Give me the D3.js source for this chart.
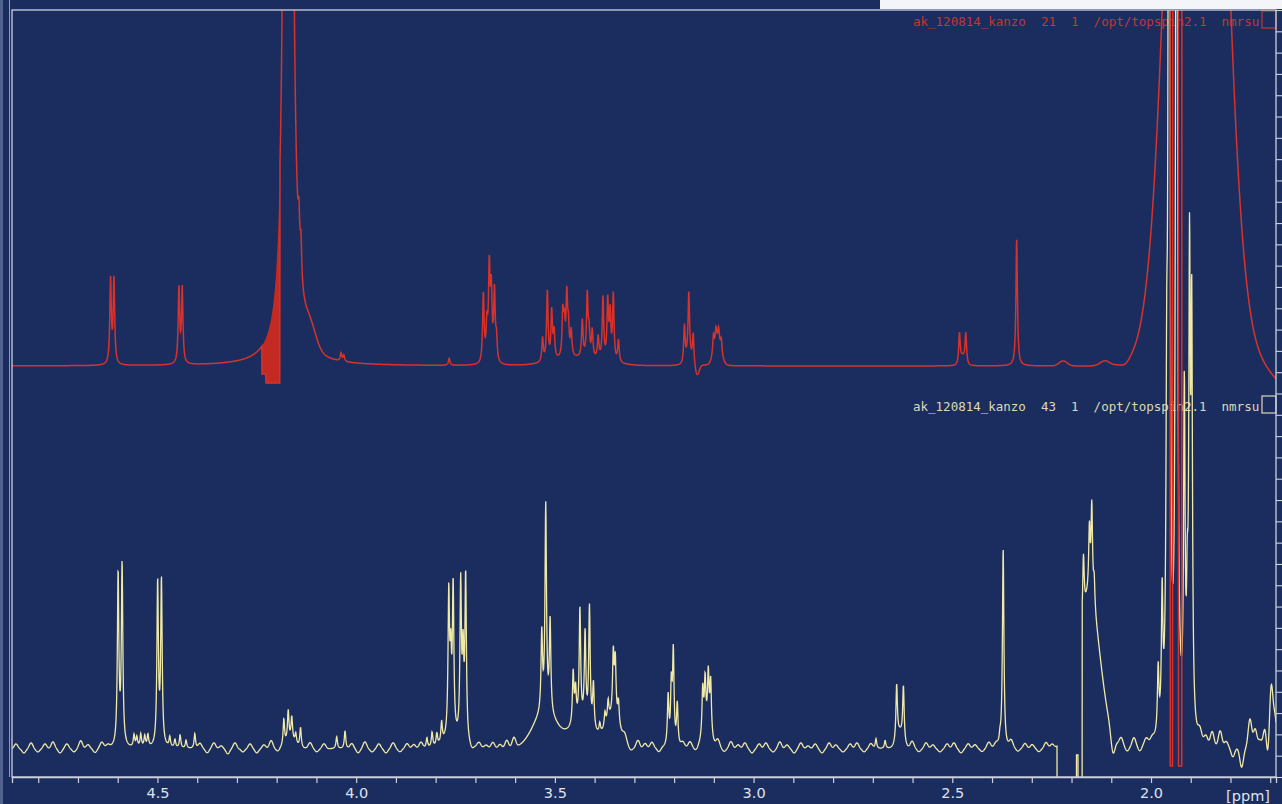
<!DOCTYPE html>
<html>
<head>
<meta charset="utf-8">
<script src="https://cdn.jsdelivr.net/npm/d3@7"></script>
<style>
  html, body { margin: 0; padding: 0; background: #1b2d5f; overflow: hidden; }
  svg { display: block; }
</style>
</head>
<body>
<svg id="chart" width="1282" height="804"></svg>
<script>
// ---------------------------------------------------------------
// 1H spectra, two acquisitions of the same sample (chemical shift in ppm).
// Sharp lines: [ppm, intensity, half-width in ppm (optional)]
// Broad features: [ppm, intensity, sigma in ppm]
// Bands: [ppm from, ppm to, level] where the trace is distorted / off-scale
// ---------------------------------------------------------------
const ppmRange = [4.866, 1.6855];
const tickValues = [4.8, 4.7, 4.6, 4.5, 4.4, 4.3, 4.2, 4.1, 4.0, 3.9, 3.8, 3.7, 3.6, 3.5,
  3.4, 3.3, 3.2, 3.1, 3.0, 2.9, 2.8, 2.7, 2.6, 2.5, 2.4, 2.3, 2.2, 2.1, 2.0, 1.9, 1.8, 1.7];
const tickLabels = [4.5, 4.0, 3.5, 3.0, 2.5, 2.0];
const unitLabel = "[ppm]";

const redTitle = "ak_120814_kanzo  21  1  /opt/topspin2.1  nmrsu";
const yellowTitle = "ak_120814_kanzo  43  1  /opt/topspin2.1  nmrsu";

// experiment 21
const redLines = [
  [4.618, 85], [4.6095, 85],
  [4.446, 75], [4.4377, 75],
  [4.171, 14000, 0.0025],
  [4.144, 40], [4.139, 38],
  [4.038, 8], [4.031, 6], [3.766, 7],
  [3.680, 68], [3.671, 30], [3.665, 84], [3.660, 62], [3.652, 68], [3.647, 22],
  [3.531, 24], [3.519, 70], [3.508, 48], [3.502, 27],
  [3.480, 44], [3.476, 32], [3.470, 60], [3.466, 28], [3.459, 25],
  [3.431, 37], [3.4185, 62], [3.414, 24], [3.406, 27], [3.391, 22],
  [3.379, 62], [3.367, 58], [3.361, 46], [3.353, 66], [3.340, 22],
  [3.174, 38], [3.163, 64], [3.152, 30],
  [3.101, 18], [3.0946, 15], [3.088, 15], [3.0813, 14],
  [2.482, 30], [2.466, 30],
  [2.338, 127]
];
const redHumps = [
  [4.116, 20, 0.015],
  [3.665, 10, 0.008],
  [3.44, 7, 0.06],
  [3.163, 8, 0.006],
  [3.142, -11, 0.005],
  [3.091, 22, 0.009],
  [2.474, 8, 0.006],
  [2.221, 5, 0.010], [2.116, 5, 0.012], [2.065, -3, 0.010],
  [1.8855, 1292, 0.0539],
  [1.650, -22, 0.038]
];
const redBands = [
  [4.237, 4.227, -8], [4.227, 4.1917, -17],
  [1.9521, 1.9453, -400], [1.9312, 1.9226, -400]
];
const redFilledRange = [4.237, 4.1917];

// experiment 43
const yellowLines = [
  [4.599, 172], [4.589, 181],
  [4.559, 12], [4.552, 10], [4.542, 13], [4.532, 11], [4.524, 12],
  [4.4995, 163], [4.490, 165],
  [4.469, 10], [4.456, 8], [4.443, 13], [4.428, 8], [4.406, 15],
  [4.182, 26], [4.171, 30], [4.162, 23], [4.152, 10], [4.140, 20],
  [4.049, 12], [4.028, 18],
  [3.822, 10], [3.809, 15], [3.797, 12], [3.785, 20],
  [3.767, 140], [3.762, 70], [3.756, 148], [3.737, 155], [3.731, 80], [3.7245, 165],
  [3.533, 78], [3.523, 205], [3.512, 92],
  [3.454, 52], [3.448, 32], [3.437, 112], [3.424, 88], [3.413, 118], [3.403, 45],
  [3.387, 10], [3.374, 14],
  [3.366, 20], [3.353, 62], [3.348, 56], [3.340, 22],
  [3.215, 50], [3.207, 58], [3.202, 92], [3.192, 42],
  [3.128, 46], [3.122, 48], [3.114, 54], [3.108, 53],
  [2.692, 10], [2.669, 8],
  [2.640, 55], [2.623, 55],
  [2.380, 8], [2.372, 200],
  [2.170, 60], [2.155, 65], [2.149, 92], [2.143, 28],
  [1.982, 65], [1.972, 130], [1.9605, 250], [1.9547, 1500], [1.9358, 1500],
  [1.9162, 330], [1.9087, 100], [1.9031, 450], [1.8976, 400]
];
const yellowHumps = [
  [4.165, 8, 0.012],
  [3.76, 8, 0.02],
  [3.525, 35, 0.03],
  [3.432, 25, 0.03],
  [3.354, 30, 0.018],
  [3.118, 20, 0.01],
  [2.632, 15, 0.008],
  [2.156, 150, 0.0277],
  [2.096, -19, 0.005]
];
const yellowBands = [
  [2.2365, 2.1875, -200], [2.1875, 2.1837, -6], [2.1837, 2.1736, -200]
];
// small baseline wiggles: [ppm, intensity]
const yellowNoise = [
  [4.856, 5], [4.836, -4], [4.818, 6], [4.801, -3], [4.783, 5], [4.763, 7], [4.745, -4],
  [4.728, 5], [4.710, -3], [4.693, 8], [4.675, 4], [4.657, -4], [4.640, 6], [4.625, 3],
  [4.393, 5], [4.375, -4], [4.358, 6], [4.340, 3], [4.323, -5], [4.305, 6], [4.285, -3],
  [4.267, 5], [4.250, -4], [4.232, 4], [4.214, 8], [4.197, -3],
  [4.116, 6], [4.099, -3], [4.081, 5], [4.011, 5], [3.995, -4], [3.978, 7], [3.960, -3],
  [3.943, 5], [3.925, -4], [3.907, 6], [3.890, -3], [3.872, 5], [3.855, 4], [3.837, 6],
  [3.709, -4], [3.691, 5], [3.673, 3], [3.656, 6], [3.638, 4], [3.621, 8], [3.603, 10],
  [3.324, 7], [3.309, -3], [3.291, 8], [3.273, 5], [3.256, 6], [3.238, -4],
  [3.178, 5], [3.160, 6], [3.145, -3],
  [3.090, 8], [3.074, -3], [3.057, 7], [3.039, 4], [3.022, 6], [3.004, -4], [2.986, 5],
  [2.969, 6], [2.951, -3], [2.934, 7], [2.916, 4], [2.898, -4], [2.881, 6], [2.863, 3],
  [2.845, 5], [2.828, -4], [2.810, 6], [2.793, 4], [2.775, -3], [2.757, 5], [2.740, 6],
  [2.722, -3], [2.705, 5],
  [2.601, 7], [2.584, -3], [2.566, 6], [2.549, 4], [2.531, -3], [2.513, 5], [2.496, 6],
  [2.478, -4], [2.460, 5], [2.443, 4], [2.425, -3], [2.408, 6], [2.390, 4],
  [2.352, 7], [2.335, -3], [2.317, 5], [2.299, 4], [2.282, -3], [2.264, 6], [2.249, 4],
  [2.075, 8], [2.060, -4], [2.043, 9], [2.028, -5], [2.012, 6], [1.997, 4],
  [1.877, 10], [1.862, 8], [1.846, 14], [1.826, 16], [1.811, 6], [1.794, -9],
  [1.772, -19], [1.751, 29], [1.738, 19], [1.726, 8], [1.713, 22], [1.705, -21],
  [1.698, 66], [1.688, 29]
];

// ---------------------------------------------------------------
const svg = d3.select("#chart");
const W = 1282, H = 804;
const plot = { left: 12, right: 1276, top: 10, bottom: 777 };

const x = d3.scaleLinear().domain(ppmRange).range([plot.left, plot.right]);
const yRed = d3.scaleLinear().domain([0, 100]).range([366, 266]);
const yYellow = d3.scaleLinear().domain([0, 100]).range([749, 649]);

// lineshape model built from the peak tables
function makeSpectrum(lines, humps, noise, bands) {
  const defaultW = 0.0022;
  const noiseSigma = 0.0045;
  return function (p) {
    for (const b of bands) {
      const lo = Math.min(b[0], b[1]), hi = Math.max(b[0], b[1]);
      if (p >= lo && p <= hi) return b[2];
    }
    let v = 0;
    for (const l of lines) {
      const w = l[2] || defaultW;
      const d = p - l[0];
      v += l[1] * w * w / (d * d + w * w);
    }
    for (const h of humps) {
      const d = p - h[0];
      v += h[1] * Math.exp(-d * d / (2 * h[2] * h[2]));
    }
    for (const n of noise) {
      const d = p - n[0];
      v += n[1] * Math.exp(-d * d / (2 * noiseSigma * noiseSigma));
    }
    return v;
  };
}

const redFn = makeSpectrum(redLines, redHumps, [], redBands);
const redUndistorted = makeSpectrum(redLines, redHumps, [], []);
const yellowFn = makeSpectrum(yellowLines, yellowHumps, yellowNoise, yellowBands);

const pixelGrid = d3.range(plot.left, plot.right + 0.001, 0.25);
const redData = pixelGrid.map(px => { const p = x.invert(px); return [p, redFn(p)]; });
const yellowData = pixelGrid.map(px => { const p = x.invert(px); return [p, yellowFn(p)]; });

// background
svg.append("rect").attr("width", W).attr("height", H).attr("fill", "#1b2d5f");
svg.append("rect").attr("x", 0).attr("y", 0).attr("width", 3).attr("height", H)
  .attr("fill", "#6b7ba4").attr("opacity", 0.7);
svg.append("rect").attr("x", 880).attr("y", 0).attr("width", W - 880).attr("height", 9)
  .attr("fill", "#f4f5f8");

const defs = svg.append("defs");
defs.append("clipPath").attr("id", "plotClip")
  .append("rect")
  .attr("x", plot.left).attr("y", plot.top)
  .attr("width", plot.right - plot.left).attr("height", plot.bottom - plot.top);

// dataset titles
const mono = "'DejaVu Sans Mono', 'Liberation Mono', monospace";
function title(text, yBase, color) {
  svg.append("text")
    .attr("x", 913).attr("y", yBase)
    .attr("font-family", mono).attr("font-size", 12.5)
    .attr("fill", color)
    .style("white-space", "pre")
    .text(text);
  svg.append("rect")
    .attr("x", 1262).attr("y", yBase - 15).attr("width", 14).attr("height", 17)
    .attr("fill", "none").attr("stroke", color).attr("stroke-width", 1.2);
}
title(redTitle, 26, "#bf3a31");
title(yellowTitle, 411, "#ddd9b6");

const traces = svg.append("g").attr("clip-path", "url(#plotClip)");

// experiment 43 trace
traces.append("path")
  .datum(yellowData)
  .attr("fill", "none")
  .attr("stroke", "#f1eaa6")
  .attr("stroke-width", 1.3)
  .attr("d", d3.line().x(d => x(d[0])).y(d => yYellow(d[1])));

// phase-distorted flank of the solvent line in experiment 21
const fillGrid = pixelGrid.map(px => x.invert(px))
  .filter(p => p <= redFilledRange[0] && p >= redFilledRange[1]);
traces.append("path")
  .datum(fillGrid)
  .attr("fill", "#c42a22")
  .attr("d", d3.area()
    .x(p => x(p))
    .y0(p => yRed(redFn(p)))
    .y1(p => yRed(redUndistorted(p))));

// experiment 21 trace
traces.append("path")
  .datum(redData)
  .attr("fill", "none")
  .attr("stroke", "#d8322a")
  .attr("stroke-width", 1.5)
  .attr("d", d3.line().x(d => x(d[0])).y(d => yRed(d[1])));

// frame
const frameColor = "#cdd1de";
svg.append("line").attr("x1", 9.5).attr("x2", 9.5).attr("y1", 0).attr("y2", plot.bottom)
  .attr("stroke", "#8f9cc2").attr("stroke-width", 1);
svg.append("rect")
  .attr("x", plot.left).attr("y", plot.top)
  .attr("width", plot.right - plot.left).attr("height", plot.bottom - plot.top)
  .attr("fill", "none").attr("stroke", frameColor).attr("stroke-width", 1.3);

// chemical shift axis
const xAxis = d3.axisBottom(x)
  .tickValues(tickValues)
  .tickSize(6)
  .tickPadding(5)
  .tickFormat(d => tickLabels.some(t => Math.abs(t - d) < 1e-9) ? d.toFixed(1) : "");
const gx = svg.append("g").attr("transform", `translate(0,${plot.bottom})`).call(xAxis);
gx.select(".domain").attr("stroke", frameColor).attr("stroke-width", 1.3);
gx.selectAll(".tick line").attr("stroke", frameColor).attr("stroke-width", 1.2);
gx.selectAll(".tick text")
  .attr("fill", "#dfe2ea")
  .attr("font-family", "'DejaVu Sans', Verdana, sans-serif")
  .attr("font-size", 14.5);

svg.append("text")
  .attr("x", 1248).attr("y", 801)
  .attr("text-anchor", "middle")
  .attr("fill", "#dfe2ea")
  .attr("font-family", "'DejaVu Sans', Verdana, sans-serif")
  .attr("font-size", 14.5)
  .text(unitLabel);

// intensity ticks on the right edge
const yTicks = d3.scaleLinear().domain([0, 36]).range([plot.bottom, plot.top]);
const yAxis = d3.axisRight(yTicks).tickValues(d3.range(0, 37)).tickSize(6).tickFormat("");
const gy = svg.append("g").attr("transform", `translate(${plot.right},0)`).call(yAxis);
gy.select(".domain").remove();
gy.selectAll(".tick line").attr("stroke", frameColor).attr("stroke-width", 1.1);
</script>
</body>
</html>
